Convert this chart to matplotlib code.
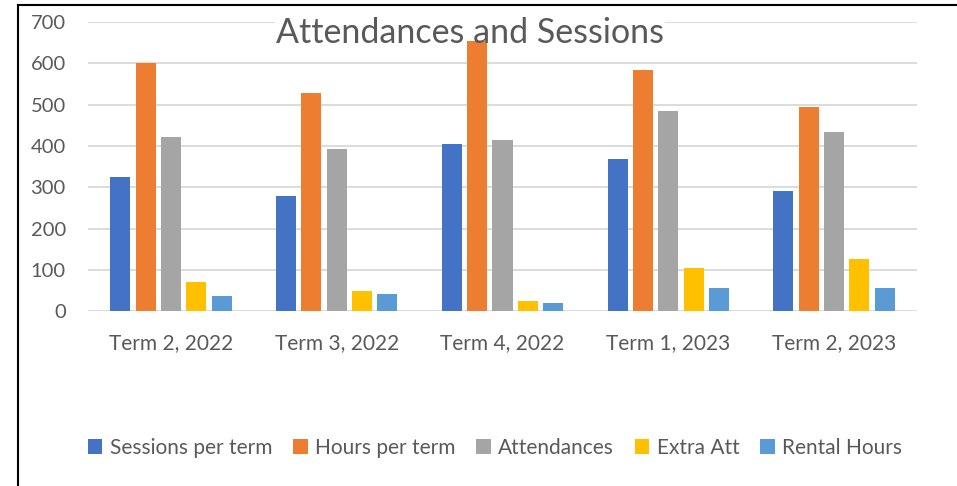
import numpy as np
import matplotlib.pyplot as plt
from matplotlib.lines import Line2D

plt.rcParams['font.family'] = ['Lato', 'DejaVu Sans']

terms = ['Term 2, 2022', 'Term 3, 2022', 'Term 4, 2022', 'Term 1, 2023', 'Term 2, 2023']
sessions = [325, 280, 405, 369, 291]
hours = [602, 527, 653, 585, 494]
attendances = [421, 393, 415, 484, 434]
extra_att = [72, 49, 24, 104, 126]
rental_hours = [38, 41, 21, 56, 56]

series = [sessions, hours, attendances, extra_att, rental_hours]
names = ['Sessions per term', 'Hours per term', 'Attendances', 'Extra Att', 'Rental Hours']
colors = ['#4472C4', '#ED7D31', '#A5A5A5', '#FFC000', '#5B9BD5']
txt = '#595959'

fig = plt.figure(figsize=(9.57, 4.86), dpi=100)
ax = fig.add_axes([88/957, 1-311.3/486, (917-88)/957, (311.3-22)/486])

x = np.arange(len(terms))
pitch = 0.153
w = 0.121
for i, (vals, nm, c) in enumerate(zip(series, names, colors)):
    ax.bar(x + (i - 2) * pitch, vals, w, color=c, label=nm, zorder=1)

ax.set_xlim(-0.5, 4.5)
ax.set_ylim(0, 700)
ax.set_yticks(range(0, 701, 100))
ax.set_xticks(x)
ax.set_xticklabels(terms)
ax.grid(axis='y', color='#D9D9D9', linewidth=1.3, zorder=0.5)
ax.set_axisbelow(True)
for s in ax.spines.values():
    s.set_visible(False)
ax.tick_params(axis='both', length=0, labelcolor=txt)
ax.tick_params(axis='y', pad=16, labelsize=14.5)
ax.tick_params(axis='x', pad=16, labelsize=15)

# title: white box hides the gridline, text drawn over the bars
tx, ty = 470/957, 1-33/486
ax.text(tx, ty, 'Attendances and Sessions', transform=fig.transFigure,
        ha='center', va='center', fontsize=24.5, color='white', zorder=0.8,
        bbox=dict(facecolor='white', edgecolor='none', pad=1))
ax.text(tx, ty, 'Attendances and Sessions', transform=fig.transFigure,
        ha='center', va='center', fontsize=24.5, color=txt, zorder=3)

fig.legend(loc='center', bbox_to_anchor=(495/957, 1-448/486), ncol=5, frameon=False,
           fontsize=15, labelcolor=txt, handlelength=0.7, handleheight=0.7,
           handletextpad=0.35, columnspacing=1.0)

# outer border
fig.add_artist(Line2D([18/957, 18/957], [0, 1-5/486], color='black', linewidth=1.5))
fig.add_artist(Line2D([18/957, 1], [1-5/486, 1-5/486], color='black', linewidth=1.5))

fig.savefig('out.png', dpi=100)
